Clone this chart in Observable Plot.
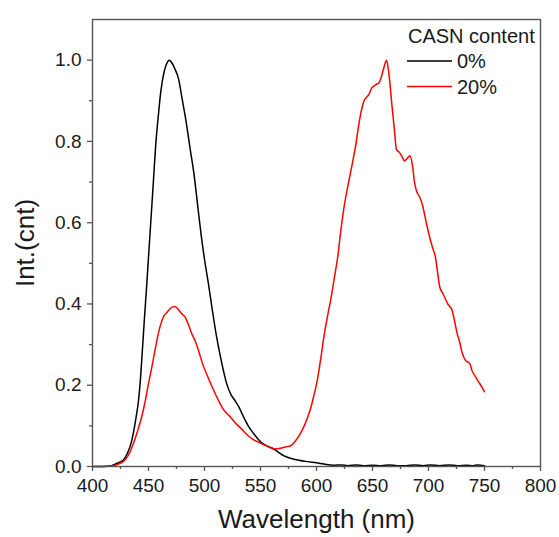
<!DOCTYPE html>
<html>
<head>
<meta charset="utf-8">
<script src="https://cdn.jsdelivr.net/npm/d3@7"></script>
<script src="https://cdn.jsdelivr.net/npm/@observablehq/plot@0.6"></script>
<style>
  html, body { margin: 0; padding: 0; background: #fff; }
  #chart { position: relative; width: 559px; height: 537px; }
</style>
</head>
<body>
<div id="chart"></div>
<script>
// ---- data ----
const seriesNames = ["0%", "20%"];
const seriesColors = ["#000000", "#ff0000"];
const legendTitle = "CASN content";
const xTitle = "Wavelength (nm)";
const yTitle = "Int.(cnt)";

const wavelength0 = [400, 410, 417, 422, 427.6, 431, 434.4, 437, 439, 441, 442.5, 444.5, 446.4, 448.5, 450, 452, 454, 456.7, 459, 461, 464, 466, 468.5, 471, 473, 477, 480, 483.5, 487, 490.6, 494, 497, 500, 503.5, 507, 510.3, 515, 519.8, 524, 527, 531, 534.7, 539, 543.6, 550, 556, 562, 566, 571, 580, 591.8, 600, 606.6, 615, 622, 628, 635, 642, 650, 658, 665, 672, 680, 688, 695, 702, 710, 718, 726, 734, 740, 744, 750];
const intensity0 = [0, 0, 0.002, 0.008, 0.016, 0.032, 0.057, 0.09, 0.123, 0.16, 0.204, 0.285, 0.366, 0.45, 0.515, 0.60, 0.685, 0.80, 0.87, 0.923, 0.972, 0.99, 1.0, 0.993, 0.982, 0.952, 0.905, 0.85, 0.785, 0.72, 0.64, 0.57, 0.51, 0.45, 0.385, 0.327, 0.26, 0.204, 0.175, 0.163, 0.145, 0.123, 0.1, 0.082, 0.061, 0.05, 0.043, 0.035, 0.026, 0.018, 0.012, 0.009, 0.006, 0.003, 0.004, 0.002, 0.004, 0.002, 0.003, 0.002, 0.004, 0.002, 0.002, 0.004, 0.002, 0.004, 0.002, 0.004, 0.002, 0.003, 0.002, 0.004, 0.002];

const wavelength20 = [400, 410, 417, 423, 429, 433, 436.6, 440, 444, 447, 450, 453, 455.8, 459, 463.3, 467, 470, 473.7, 477, 480, 482.6, 485.5, 488.6, 491.5, 494.6, 498, 502.9, 507, 512.4, 517, 522.7, 528, 533.2, 538, 543.6, 548, 552, 557, 562, 568, 572, 577, 581, 585.8, 589, 591.8, 595, 597.7, 600.7, 603.5, 606.6, 609.5, 612.6, 617, 618.5, 621.5, 624.5, 628, 631.9, 635, 637.8, 640, 642.3, 644.5, 646.7, 649, 651.2, 653, 655.7, 658, 660.5, 662.5, 664.5, 667.6, 669.5, 671.4, 674, 676.5, 678.5, 681, 683.3, 685.5, 687.5, 689.3, 692, 694.4, 698, 701.8, 704, 706.2, 708, 710.1, 713, 717.2, 721.1, 723.5, 725.6, 727.5, 730, 733, 736.8, 739, 741.9, 746, 750];
const intensity20 = [0, 0, 0.001, 0.006, 0.016, 0.033, 0.057, 0.085, 0.123, 0.16, 0.204, 0.245, 0.286, 0.33, 0.368, 0.381, 0.39, 0.394, 0.385, 0.375, 0.368, 0.35, 0.327, 0.31, 0.286, 0.255, 0.221, 0.195, 0.163, 0.14, 0.123, 0.106, 0.092, 0.078, 0.066, 0.06, 0.055, 0.049, 0.043, 0.045, 0.048, 0.051, 0.062, 0.082, 0.1, 0.119, 0.145, 0.175, 0.212, 0.26, 0.319, 0.365, 0.409, 0.482, 0.507, 0.575, 0.637, 0.69, 0.744, 0.79, 0.842, 0.875, 0.899, 0.908, 0.915, 0.93, 0.936, 0.94, 0.944, 0.96, 0.985, 1.0, 0.97, 0.882, 0.83, 0.78, 0.773, 0.762, 0.752, 0.758, 0.765, 0.744, 0.7, 0.678, 0.664, 0.646, 0.6, 0.556, 0.535, 0.515, 0.48, 0.441, 0.425, 0.40, 0.384, 0.355, 0.327, 0.31, 0.28, 0.261, 0.253, 0.235, 0.221, 0.203, 0.184];

const xMajorTicks = [400, 450, 500, 550, 600, 650, 700, 750, 800];
const xMinorTicks = [425, 475, 525, 575, 625, 675, 725, 775];
const yMajorTicks = [0, 0.2, 0.4, 0.6, 0.8, 1.0];
const yMinorTicks = [0.1, 0.3, 0.5, 0.7, 0.9];

// ---- build tables ----
const data0 = wavelength0.map((w, i) => ({wl: w, v: intensity0[i]}));
const data20 = wavelength20.map((w, i) => ({wl: w, v: intensity20[i]}));

const axisColor = "#555";
const textColor = "#1a1a1a";
const font = "'Liberation Sans', Arial, sans-serif";

const chart = Plot.plot({
  width: 559,
  height: 537,
  marginLeft: 92,
  marginRight: 19,
  marginTop: 19,
  marginBottom: 71,
  style: {fontFamily: font, fontSize: "19px", color: textColor, background: "#fff", overflow: "visible"},
  x: {domain: [400, 800]},
  y: {domain: [0, 1.1]},
  marks: [
    Plot.axisX({ticks: xMajorTicks, tickSize: 5, tickPadding: 7, tickFormat: d => String(d), stroke: axisColor, strokeWidth: 1.3, fill: textColor, fontSize: 19, label: null}),
    Plot.axisX({ticks: xMinorTicks, tickSize: 3, tickFormat: () => "", stroke: axisColor, strokeWidth: 1.3, label: null}),
    Plot.axisY({ticks: yMajorTicks, tickSize: 5, tickPadding: 6, tickFormat: d3.format(".1f"), stroke: axisColor, strokeWidth: 1.3, fill: textColor, fontSize: 19, label: null}),
    Plot.axisY({ticks: yMinorTicks, tickSize: 3, tickFormat: () => "", stroke: axisColor, strokeWidth: 1.3, label: null}),
    Plot.line(data0, {x: "wl", y: "v", stroke: seriesColors[0], strokeWidth: 1.5, curve: "monotone-x"}),
    Plot.line(data20, {x: "wl", y: "v", stroke: seriesColors[1], strokeWidth: 1.5, curve: "monotone-x"}),
    Plot.frame({stroke: axisColor, strokeWidth: 1.4}),
    Plot.text([xTitle], {frameAnchor: "bottom", lineAnchor: "middle", textAnchor: "middle", dy: 53, fontSize: 26, fill: textColor}),
    Plot.text([yTitle], {frameAnchor: "left", lineAnchor: "middle", textAnchor: "middle", dx: -67, rotate: -90, fontSize: 26, fill: textColor})
  ]
});

document.getElementById("chart").appendChild(chart);

// ---- legend (inside the frame, top right) ----
const svg = d3.select(chart);
const lg = svg.append("g").attr("font-family", font).attr("font-size", 20)
  .attr("fill", textColor).attr("text-anchor", "start");
lg.append("text").attr("x", 408).attr("y", 43).text(legendTitle);
seriesNames.forEach((name, i) => {
  const y = 61 + i * 25.5;
  lg.append("line").attr("x1", 407).attr("x2", 452).attr("y1", y).attr("y2", y)
    .attr("stroke", seriesColors[i]).attr("stroke-width", 1.5);
  lg.append("text").attr("x", 457).attr("y", y + 7).text(name);
});
</script>
</body>
</html>
